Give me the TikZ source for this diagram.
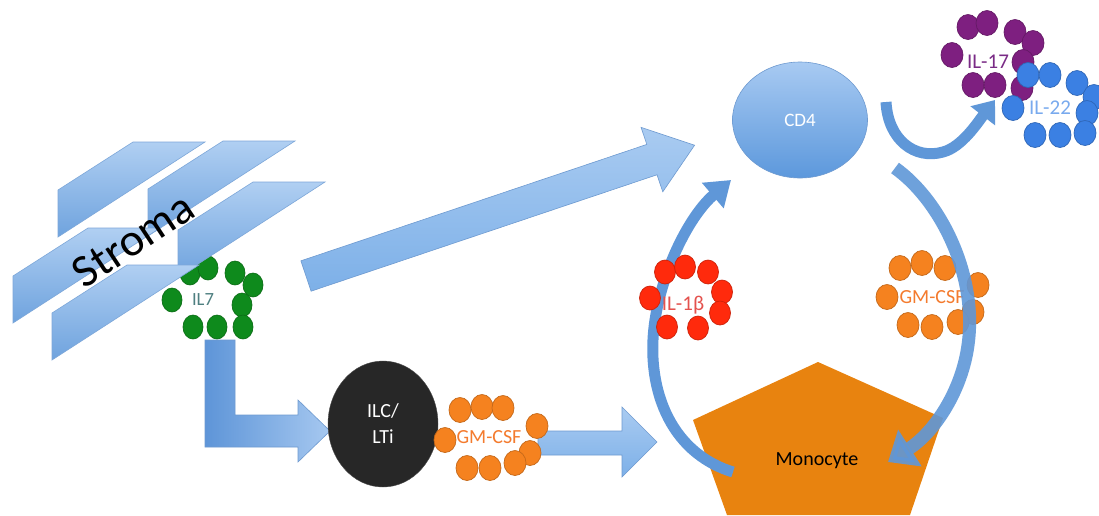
\documentclass[tikz,border=0pt]{standalone}
\usepackage{fontspec}
\setmainfont{Carlito}
\usetikzlibrary{arrows.meta,calc,shapes.geometric}
\definecolor{stromatop}{HTML}{B0CFF2}
\definecolor{stromabot}{HTML}{6FA3DE}
\definecolor{strokeblue}{HTML}{7DA7D9}
\definecolor{arrowL}{HTML}{5E95D8}
\definecolor{arrowR}{HTML}{A6C8F0}
\definecolor{arrowedge}{HTML}{6E9AD0}
\definecolor{diagtop}{HTML}{A9CBF1}
\definecolor{diagbot}{HTML}{7DB0E8}
\definecolor{curvblue}{HTML}{5F97D8}
\definecolor{gcyt}{HTML}{0E8A1C}
\definecolor{il7txt}{HTML}{4E7F80}
\definecolor{ocyt}{HTML}{F5821F}
\definecolor{otxt}{HTML}{F47B2E}
\definecolor{rcyt}{HTML}{FF2A0C}
\definecolor{rtxt}{HTML}{E4524E}
\definecolor{pcyt}{HTML}{7E1F80}
\definecolor{ptxt}{HTML}{7A2B86}
\definecolor{bcyt}{HTML}{3B80E3}
\definecolor{btxt}{HTML}{79AAEE}
\definecolor{monoc}{HTML}{E8830F}
\definecolor{ilcc}{HTML}{272727}
\definecolor{cdtop}{HTML}{A8CAF2}
\definecolor{cdbot}{HTML}{5C98DC}
\newcommand\stromapiece[2]{\path[stromapc] (#1,#2) -- ++(0,-47) -- ++(75,-48) -- ++(72,0) -- cycle;}
\begin{document}
\begin{tikzpicture}[x=1pt,y=-1pt,
  stromapc/.style={draw=strokeblue, line width=0.6pt, top color=stromatop, bottom color=stromabot},
  blockarr/.style={draw=arrowedge, line width=0.6pt, left color=arrowL, right color=arrowR},
  diagarr/.style={draw=arrowedge, line width=0.6pt, top color=diagtop, bottom color=diagbot},
  curv/.style={draw=curvblue, line width=#1, line cap=butt},
  cyt/.style={draw=#1!80!black, fill=#1, line width=0.7pt},
  lbl/.style={font=\fontsize{#1}{#1}\selectfont, inner sep=0pt},
]
\useasboundingbox[fill=white] (0,0) rectangle (1099,515);

% L-shaped arrow IL7 -> ILC
\path[blockarr] (205,340) -- (235,340) -- (235,415) -- (298,415) -- (298,400) -- (330,431) -- (298,462) -- (298,447) -- (205,447) -- cycle;

% IL7 cytokines
\foreach \x/\y in {190/273,208/268,235/273,253/285,172/300,242/305,243/327,193/327,217/327}
  \filldraw[cyt=gcyt] (\x,\y) ellipse [x radius=10, y radius=12];
\node[lbl=18.6, text=il7txt] (il7) at (203,300) {IL7};

% Stroma
\stromapiece{58}{237}
\stromapiece{148}{236}
\stromapiece{13}{323}
\stromapiece{178}{277}
\stromapiece{52}{360}
\node[rotate=33.5, lbl=46] (stroma) at (133,240) {Stroma};

% Big diagonal arrow stroma -> CD4
\begin{scope}[shift={(306,276)}, rotate=18.6]
  \path[diagarr] (0,-16) -- (365,-16) -- (365,-34) -- (410,0) -- (365,34) -- (365,16) -- (0,16) -- cycle;
\end{scope}

% CD4
\node[ellipse, minimum width=135pt, minimum height=116pt, inner sep=0pt,
      top color=cdtop, bottom color=cdbot, draw=arrowedge, line width=0.6pt,
      text=white, font=\fontsize{19}{19}\selectfont] (cd4) at (800,120) {CD4};

% ILC/LTi
\node[ellipse, minimum width=110pt, minimum height=126pt, inner sep=0pt,
      fill=ilcc, draw=black!70, text=white, align=center,
      font=\fontsize{20}{26}\selectfont] (ilc) at (383,424) {ILC/\\LTi};

% GM-CSF arrow to monocyte
\path[diagarr] (538,431) -- (622,431) -- (622,407) -- (657,442) -- (622,477) -- (622,455) -- (538,455) -- cycle;

% GM-CSF (ILC)
\foreach \x/\y in {460/410,482/407,503/408,445/440,537/426,530/453,467/468,490/468,515/463}
  \filldraw[cyt=ocyt] (\x,\y) ellipse [x radius=11, y radius=12.5];
\node[lbl=20, text=otxt] (gm1) at (489,437) {GM-CSF};

% Monocyte
\path[fill=monoc] (818,362) -- (943,418) -- (910,515) -- (727,515) -- (693,420) -- cycle;
\node[lbl=20, text=black] (mono) at (817,461) {Monocyte};

% IL-1b loop
\coordinate (la) at (733,472);
\coordinate (lb) at (731,180);
\draw[curv=11pt, -{Triangle[width=32pt,length=24pt]}] (la) .. controls (668,452) and (645,385) .. (655,320) .. controls (663,268) and (690,215) .. (lb);
\foreach \x/\y in {665/272,685/267,708/272,722/292,650/298,720/313,667/327,698/328}
  \filldraw[cyt=rcyt] (\x,\y) ellipse [x radius=10.5, y radius=12];
\node[lbl=21, text=rtxt] (il1) at (683,305) {IL-1β};

% GM-CSF (CD4)
\foreach \x/\y in {900/268,922/263,945/268,978/285,887/297,973/312,908/325,932/327,958/322}
  \filldraw[cyt=ocyt] (\x,\y) ellipse [x radius=11, y radius=12.5];
\node[lbl=20, text=otxt] (gm2) at (932,297) {GM-CSF};
\coordinate (ra) at (895,168);
\coordinate (rb) at (888,462);
\draw[curv=13pt, opacity=0.9, -{Triangle[width=42pt,length=26pt]}] (ra) .. controls (940,200) and (978,275) .. (968,345) .. controls (962,390) and (935,432) .. (rb);

% IL-17 / IL-22
\coordinate (ta) at (886,102);
\coordinate (tb) at (995,100);
\draw[curv=11pt, -{Triangle[width=30pt,length=20pt]}] (ta) .. controls (888,140) and (915,160) .. (943,152) .. controls (962,147) and (978,122) .. (tb);
\foreach \x/\y in {968/27,987/23,1015/32,1033/43,952/55,1023/62,973/85,995/85,1022/88}
  \filldraw[cyt=pcyt] (\x,\y) ellipse [x radius=11, y radius=12.5];
\node[lbl=21, text=ptxt] (il17) at (988,62) {IL-17};
\foreach \x/\y in {1028/75,1050/75,1077/83,1094/97,1013/108,1087/113,1035/135,1060/135,1085/133}
  \filldraw[cyt=bcyt] (\x,\y) ellipse [x radius=11, y radius=12.5];
\node[lbl=21, text=btxt] (il22) at (1050,108) {IL-22};
\end{tikzpicture}
\end{document}
